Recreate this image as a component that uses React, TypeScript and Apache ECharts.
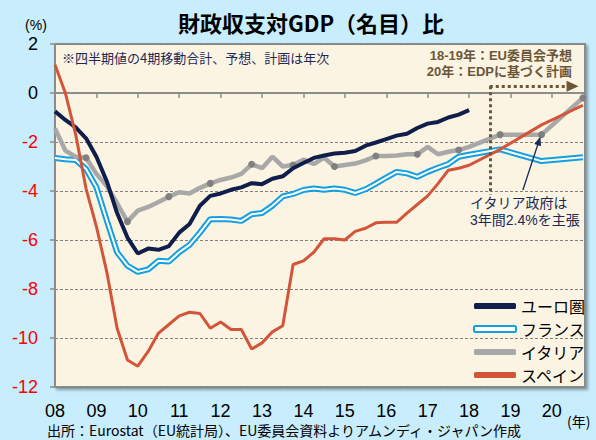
import React, { useEffect, useRef } from 'react';
import * as echarts from 'echarts';

// Quarterly data from 2008Q1 to 2018Q1 (4-quarter moving sum, % of nominal GDP)
const START_YEAR = 2008;
const yearTickLabels = ['08', '09', '10', '11', '12', '13', '14', '15', '16', '17', '18', '19', '20'];

const euroArea = [-0.75, -1.1, -1.4, -1.85, -2.6, -3.6, -4.9, -5.9, -6.55, -6.35,
  -6.4, -6.25, -5.7, -5.35, -4.6, -4.2, -4.1, -3.95, -3.85, -3.68,
  -3.72, -3.5, -3.4, -3.07, -2.86, -2.65, -2.55, -2.47, -2.44, -2.37,
  -2.15, -2.02, -1.88, -1.74, -1.66, -1.43, -1.25, -1.18, -1.0, -0.88, -0.7];

const france = [-2.65, -2.7, -2.73, -3.1, -3.85, -5.2, -6.5, -7.05, -7.3, -7.2,
  -6.85, -6.88, -6.5, -6.2, -5.7, -5.15, -5.14, -5.16, -5.22, -4.95,
  -4.9, -4.6, -4.22, -4.12, -3.96, -3.9, -3.95, -3.9, -3.95, -4.08,
  -3.93, -3.7, -3.45, -3.22, -3.28, -3.42, -3.22, -3.05, -2.9, -2.6, -2.52];

const italy = [-1.45, -2.35, -2.6, -2.64, -3.3, -3.8, -4.5, -5.25, -4.8, -4.65,
  -4.45, -4.23, -4.05, -4.1, -3.87, -3.69, -3.55, -3.45, -3.3, -2.91,
  -3.07, -2.6, -3.0, -2.94, -2.72, -2.9, -2.64, -3.0, -2.94, -2.88,
  -2.75, -2.57, -2.57, -2.55, -2.5, -2.5, -2.2, -2.5, -2.4, -2.33, -2.2];

const spain = [1.15, 0.0, -1.7, -3.9, -5.45, -7.3, -9.6, -10.9, -11.15, -10.55,
  -9.8, -9.45, -9.1, -8.95, -9.0, -9.6, -9.35, -9.65, -9.65, -10.45,
  -10.2, -9.75, -9.5, -7.0, -6.85, -6.5, -5.95, -5.95, -6.0, -5.65,
  -5.52, -5.3, -5.28, -5.28, -4.9, -4.55, -4.2, -3.7, -3.15, -3.07, -2.95];

// Annual forecasts / plans (plotted at the Q4 position of each year)
const forecastYears = [2018, 2019, 2020];
const franceForecast = [-2.3, -2.78, -2.62];
const italyForecast = [-1.7, -1.7, -0.2];
const spainForecast = [-2.3, -1.3, -0.5];

const qx = (i: number) => START_YEAR + i / 4;
const fx = (y: number) => y + 0.75;

const NAVY = '#0F1E4A';
const BLUE = '#12A0E0';
const GRAY = '#A8A8A8';
const DOT = '#808080';
const RED = '#D2553A';
const BROWN = '#6B5637';
const TEXTNAVY = '#1B2A55';
const FONT = '"Noto Sans CJK JP", "Noto Sans", sans-serif';
const NUMFONT = '"Liberation Sans", "Noto Sans CJK JP", sans-serif';

function buildQuarterly(values: number[]) {
  return values.map((v, i) => [qx(i), v]);
}
function buildForecast(values: number[]) {
  return forecastYears.map((y, i) => [fx(y), values[i]]);
}

export default function App() {
  const ref = useRef<HTMLDivElement>(null);

  useEffect(() => {
    if (!ref.current) return;
    const chart = echarts.init(ref.current, undefined, { renderer: 'svg' });

    const franceData = [...buildQuarterly(france), ...buildForecast(franceForecast)];
    const spainData = [...buildQuarterly(spain), ...buildForecast(spainForecast)];
    const italyData: any[] = [
      ...italy.map((v, i) =>
        i % 4 === 3
          ? { value: [qx(i), v], symbol: 'circle', symbolSize: 7 }
          : { value: [qx(i), v], symbol: 'none' }
      ),
      ...forecastYears.map((y, i) => ({ value: [fx(y), italyForecast[i]], symbol: 'circle', symbolSize: 7 })),
    ];

    const option: any = {
      animation: false,
      backgroundColor: '#C8EDFC',
      grid: {
        show: true,
        left: 55,
        right: 11,
        top: 44,
        bottom: 53,
        backgroundColor: '#FCF4E3',
        borderColor: '#8C8C8C',
        borderWidth: 2,
        shadowColor: 'rgba(0,0,0,0.35)',
        shadowBlur: 3,
        shadowOffsetX: 2,
        shadowOffsetY: 2,
      },
      xAxis: [
        {
          type: 'value',
          min: 2008,
          max: 2020.8,
          interval: 1,
          position: 'bottom',
          axisLine: { show: false, onZero: false },
          axisTick: { show: false },
          splitLine: { show: false },
          axisLabel: {
            fontSize: 18,
            color: '#000',
            fontFamily: NUMFONT,
            margin: 15,
            showMaxLabel: false,
            formatter: (v: number) => {
              const idx = Math.round(v) - START_YEAR;
              return Math.abs(v - Math.round(v)) < 1e-6 && yearTickLabels[idx] ? yearTickLabels[idx] : '';
            },
          },
        },
        {
          type: 'value',
          min: 2008,
          max: 2020.8,
          interval: 1,
          position: 'top',
          axisLine: { show: true, onZero: true, lineStyle: { color: '#8C8C8C', width: 2 } },
          axisTick: { show: true, inside: true, length: 5, lineStyle: { color: '#8C8C8C', width: 1.5 } },
          axisLabel: { show: false },
          splitLine: { show: false },
        },
      ],
      yAxis: {
        type: 'value',
        min: -12,
        max: 2,
        interval: 2,
        axisLine: { show: true, onZero: false, lineStyle: { color: '#8C8C8C', width: 2 } },
        axisTick: { show: true, length: 5, lineStyle: { color: '#8C8C8C', width: 1.5 } },
        splitLine: { show: true, lineStyle: { color: '#808080', width: 1, type: [3, 2] } },
        axisLabel: {
          fontSize: 18,
          fontFamily: NUMFONT,
          margin: 17,
          color: (v: any) => (Number(v) < 0 ? '#FF0000' : '#000000'),
        },
      },
      legend: {
        orient: 'vertical',
        left: 468,
        top: 292,
        itemWidth: 42,
        itemHeight: 6,
        itemGap: 5,
        selectedMode: false,
        textStyle: { fontSize: 16, color: '#000', fontFamily: FONT, lineHeight: 18 },
        data: [
          { name: 'ユーロ圏', icon: 'roundRect', itemStyle: { color: NAVY, borderWidth: 0 } },
          { name: 'フランス', icon: 'roundRect', itemStyle: { color: '#FFFFFF', borderColor: BLUE, borderWidth: 2 } },
          { name: 'イタリア', icon: 'roundRect', itemStyle: { color: GRAY, borderWidth: 0 } },
          { name: 'スペイン', icon: 'roundRect', itemStyle: { color: RED, borderWidth: 0 } },
        ],
      },
      series: [
        {
          name: 'ユーロ圏',
          type: 'line',
          data: buildQuarterly(euroArea),
          symbol: 'none',
          lineStyle: { color: NAVY, width: 4 },
          itemStyle: { color: NAVY },
          z: 3,
          markLine: {
            silent: true,
            symbol: ['none', 'none'],
            label: { show: false },
            lineStyle: { color: BROWN, width: 3, type: [3, 3] },
            data: [
              [
                { coord: [2018.5, 0.28], symbol: 'none' },
                { coord: [2018.5, -4.15], symbol: 'none' },
              ],
              [
                { coord: [2018.5, 0.28], symbol: 'none' },
                { coord: [2020.5, 0.28], symbol: 'triangle', symbolSize: [11, 12] },
              ],
            ],
          },
        },
        {
          name: 'フランス',
          type: 'line',
          data: franceData,
          symbol: 'none',
          lineStyle: { color: BLUE, width: 6 },
          itemStyle: { color: BLUE },
          z: 2,
        },
        {
          name: 'フランス',
          type: 'line',
          data: franceData,
          symbol: 'none',
          lineStyle: { color: '#FFFFFF', width: 2 },
          itemStyle: { color: '#FFFFFF' },
          z: 2,
        },
        {
          name: 'イタリア',
          type: 'line',
          data: italyData,
          showSymbol: true,
          symbol: 'none',
          lineStyle: { color: GRAY, width: 4.5 },
          itemStyle: { color: DOT },
          z: 2,
          markLine: {
            silent: true,
            symbol: ['none', 'none'],
            label: { show: false },
            lineStyle: { color: TEXTNAVY, width: 1.3, type: 'solid' },
            data: [
              [
                { coord: [2019.3, -3.96], symbol: 'none' },
                { coord: [2019.69, -1.95], symbol: 'triangle', symbolSize: [7, 9] },
              ],
            ],
          },
        },
        {
          name: 'スペイン',
          type: 'line',
          data: spainData,
          symbol: 'none',
          lineStyle: { color: RED, width: 3 },
          itemStyle: { color: RED },
          z: 4,
        },
      ],
      graphic: [
        {
          type: 'text',
          x: 311,
          y: 22,
          style: {
            text: '財政収支対GDP（名目）比',
            fontSize: 22,
            fontWeight: 'bold',
            fontFamily: FONT,
            fill: '#000',
            align: 'center',
            verticalAlign: 'middle',
          },
        },
        {
          type: 'text',
          x: 36,
          y: 25,
          style: { text: '(%)', fontSize: 14, fontFamily: NUMFONT, fill: '#000', align: 'center', verticalAlign: 'middle' },
        },
        {
          type: 'text',
          x: 62,
          y: 57,
          style: {
            text: '※四半期値の4期移動合計、予想、計画は年次',
            fontSize: 13,
            fontFamily: FONT,
            fill: TEXTNAVY,
            align: 'left',
            verticalAlign: 'middle',
          },
        },
        {
          type: 'text',
          x: 572,
          y: 55,
          style: {
            text: '18-19年：EU委員会予想',
            fontSize: 13,
            fontWeight: 'bold',
            fontFamily: NUMFONT,
            fill: BROWN,
            align: 'right',
            verticalAlign: 'middle',
          },
        },
        {
          type: 'text',
          x: 572,
          y: 71,
          style: {
            text: '20年：EDPに基づく計画',
            fontSize: 13,
            fontWeight: 'bold',
            fontFamily: NUMFONT,
            fill: BROWN,
            align: 'right',
            verticalAlign: 'middle',
          },
        },
        {
          type: 'text',
          x: 470,
          y: 203,
          style: {
            text: 'イタリア政府は',
            fontSize: 14,
            fontFamily: NUMFONT,
            fill: TEXTNAVY,
            align: 'left',
            verticalAlign: 'middle',
          },
        },
        {
          type: 'text',
          x: 470,
          y: 220,
          style: {
            text: '3年間2.4%を主張',
            fontSize: 14,
            fontFamily: NUMFONT,
            fill: TEXTNAVY,
            align: 'left',
            verticalAlign: 'middle',
          },
        },
        {
          type: 'text',
          x: 567,
          y: 421,
          style: { text: '(年)', fontSize: 14, fontFamily: FONT, fill: '#000', align: 'left', verticalAlign: 'middle' },
        },
        {
          type: 'text',
          x: 47,
          y: 430,
          style: {
            text: '出所：Eurostat（EU統計局）、EU委員会資料よりアムンディ・ジャパン作成',
            fontSize: 14,
            lineHeight: 15,
            fontFamily: FONT,
            fill: '#000',
            align: 'left',
            verticalAlign: 'middle',
          },
        },
      ],
    };

    chart.setOption(option);
    return () => chart.dispose();
  }, []);

  return (
    <div
      ref={ref}
      style={{ width: 596, height: 440, position: 'absolute', left: 0, top: 0 }}
    />
  );
}
